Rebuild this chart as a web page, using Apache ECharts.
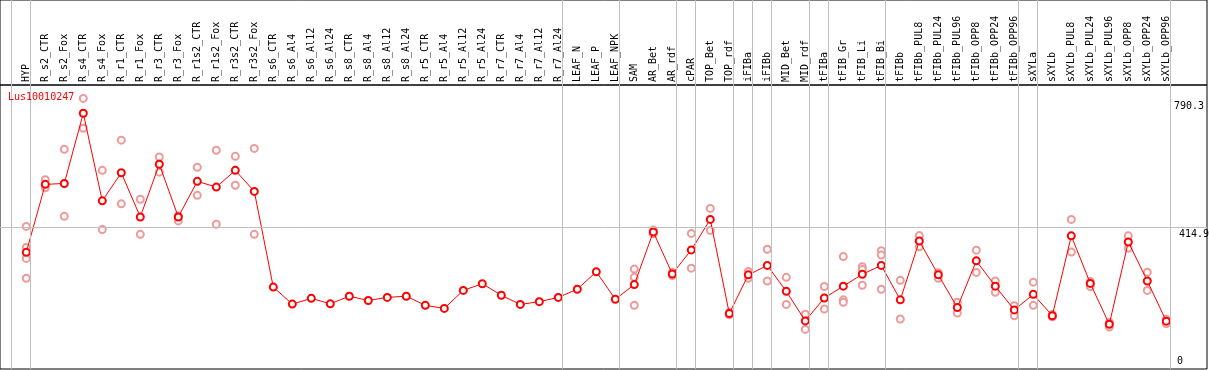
<!DOCTYPE html>
<html><head><meta charset="utf-8">
<script src="https://cdn.jsdelivr.net/npm/echarts@6/dist/echarts.min.js"></script>
<style>html,body{margin:0;padding:0;background:#fff}#c{width:1209px;height:370px}</style>
</head><body><div id="c"></div>
<script>
const categories = ["HYP","R_s2_CTR","R_s2_Fox","R_s4_CTR","R_s4_Fox","R_r1_CTR","R_r1_Fox","R_r3_CTR","R_r3_Fox","R_r1s2_CTR","R_r1s2_Fox","R_r3s2_CTR","R_r3s2_Fox","R_s6_CTR","R_s6_Al4","R_s6_Al12","R_s6_Al24","R_s8_CTR","R_s8_Al4","R_s8_Al12","R_s8_Al24","R_r5_CTR","R_r5_Al4","R_r5_Al12","R_r5_Al24","R_r7_CTR","R_r7_Al4","R_r7_Al12","R_r7_Al24","LEAF_N","LEAF_P","LEAF_NPK","SAM","AR_Bet","AR_rdf","cPAR","TOP_Bet","TOP_rdf","iFIBa","iFIBb","MID_Bet","MID_rdf","tFIBa","tFIB_Gr","tFIB_Li","tFIB_Bi","tFIBb","tFIBb_PUL8","tFIBb_PUL24","tFIBb_PUL96","tFIBb_OPP8","tFIBb_OPP24","tFIBb_OPP96","sXYLa","sXYLb","sXYLb_PUL8","sXYLb_PUL24","sXYLb_PUL96","sXYLb_OPP8","sXYLb_OPP24","sXYLb_OPP96"];
const seriesName = "Lus10010247";
const meanValues = [334,557,560,790.3,503,595,450,623,450,567,548,603,534,220,164,183,165,190,176,186,190,160,150,209,231,193,163,172,186,213,270,180,228,401,263,342,442,133,260,291,206,109,184,223,262,291,178,371,260,153,306,223,145,196,126,388,232,98,368,240,108];
const replicateValues = [
 [419,350,314,249],[572,546],[672,452],[839,741],[603,409],[702,493],[508,393],[647,597],[454,437],[613,521],[669,426],[649,554],[675,393],
 [],[],[],[],[],[],[],[],[],[],[],[],[],[],[],[],
 [],[],[],
 [279,252,160],[407,395],[268,258],[396,282],[478,406],[137,129],[249,271],[344,240],[252,163],[131,81],
 [222,148],[320,178,170],[287,278,226],[339,325,213],[242,115],
 [389,352],[267,249],[170,135],[341,268],[240,203],[159,126],
 [236,160],[130,122],[442,335],[238,222],[104,89],[388,347],[269,209],[114,100]
];
const groupEnds = [-1,0,28,31,34,35,37,38,39,41,42,45,52,53,60];
const yLabelValues = [790.3, 414.9, 0];
const refLineValue = 414.9;

const idx = categories.map((_, i) => i);
const meanData = meanValues.map((v, i) => [i, v]);
const repData = [];
replicateValues.forEach((arr, i) => arr.forEach(v => repData.push([i, v])));
const sepOffset = 0.21;
const sepLines = groupEnds.map(g => ({ xAxis: g + sepOffset }));
const xMin = -1.384, xMax = 62.142;
const mono = "'DejaVu Sans Mono', 'Liberation Mono', monospace";
const hidden = 'rgba(0,0,0,0)';

const chart = echarts.init(document.getElementById('c'), null, { renderer: 'canvas' });
chart.setOption({
  animation: false,
  backgroundColor: '#fff',
  title: { text: seriesName, left: 8, top: 92, padding: 0, textStyle: { color: '#ff0000', fontFamily: mono, fontSize: 10, fontWeight: 'normal' } },
  grid: [
    { left: 0, top: 0, width: 1207, height: 85, show: true, borderColor: '#000', borderWidth: 1, backgroundColor: 'transparent' },
    { left: 0, top: 85, width: 1207, height: 284, show: true, borderColor: '#000', borderWidth: 1, backgroundColor: 'transparent' }
  ],
  xAxis: [
    { type: 'value', gridIndex: 0, min: xMin, max: xMax, position: 'bottom',
      axisLine: { show: false }, axisTick: { show: false }, splitLine: { show: false },
      axisLabel: { inside: true, rotate: 90, margin: 3, customValues: idx, formatter: v => categories[Math.round(v)] || '',
        color: '#000', fontFamily: mono, fontSize: 10 } },
    { type: 'value', gridIndex: 1, min: xMin, max: xMax, show: false }
  ],
  yAxis: [
    { type: 'value', gridIndex: 0, min: 0, max: 1, show: false },
    { type: 'value', gridIndex: 1, min: -48.9, max: 883.1, show: false }
  ],
  series: [
    { type: 'line', xAxisIndex: 0, yAxisIndex: 0, data: [], silent: true,
      markLine: { silent: true, symbol: 'none', label: { show: false },
        lineStyle: { color: '#c0c0c0', width: 1, type: 'solid' }, data: sepLines } },
    { name: 'replicates', type: 'scatter', xAxisIndex: 1, yAxisIndex: 1, data: repData, z: 2,
      symbol: 'emptyCircle', symbolSize: 7,
      itemStyle: { color: '#ee9a9a', borderWidth: 1.3, opacity: 1 } },
    { name: seriesName, type: 'line', xAxisIndex: 1, yAxisIndex: 1, data: meanData, z: 3,
      symbol: 'emptyCircle', symbolSize: 7, showAllSymbol: true,
      lineStyle: { color: '#ff0000', width: 1 },
      itemStyle: { color: '#ff0000', borderWidth: 1.6 },
      markLine: { silent: true, symbol: 'none',
        data: [
          ...sepLines.map(s => ({ ...s, lineStyle: { color: '#c0c0c0', width: 1, type: 'solid' }, label: { show: false } })),
          { yAxis: refLineValue, lineStyle: { color: '#c0c0c0', width: 1, type: 'solid' },
            label: { show: true, position: 'insideEndBottom', formatter: String(yLabelValues[1]), color: '#000', fontFamily: mono, fontSize: 10, distance: [-2, 2] } },
          { yAxis: yLabelValues[0], lineStyle: { color: hidden, width: 1 },
            label: { show: true, position: 'insideEndTop', formatter: String(yLabelValues[0]), color: '#000', fontFamily: mono, fontSize: 10, distance: [3, 2] } },
          { yAxis: yLabelValues[2], lineStyle: { color: hidden, width: 1 },
            label: { show: true, position: 'insideEndBottom', formatter: String(yLabelValues[2]), color: '#000', fontFamily: mono, fontSize: 10, distance: [24, 2] } }
        ] } }
  ]
});
</script>
</body></html>
